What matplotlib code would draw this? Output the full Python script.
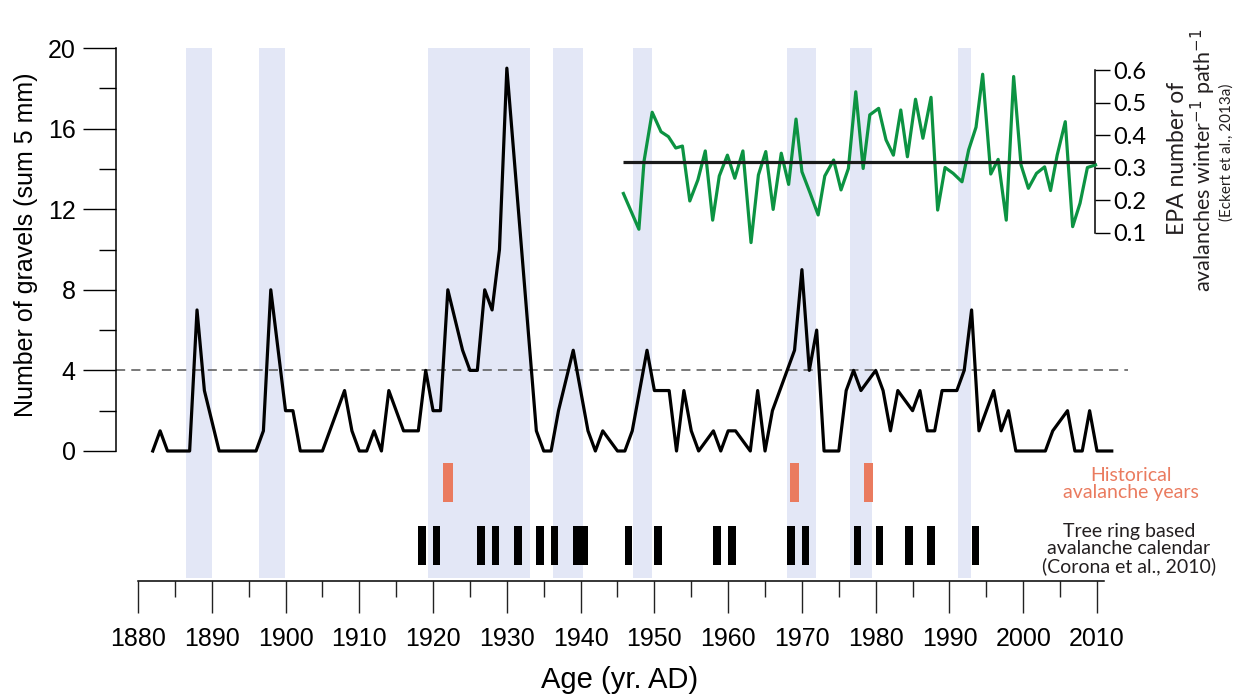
import matplotlib
matplotlib.use("Agg")
import matplotlib.pyplot as plt
from matplotlib.ticker import MultipleLocator

plt.rcParams['font.family'] = ['Liberation Sans', 'DejaVu Sans']

# gravel counts (sum 5 mm) through time
gravel_years = [1882, 1883, 1884, 1887, 1888, 1889, 1891, 1896, 1897, 1898,
                1900, 1901, 1902, 1905, 1908, 1909, 1910, 1911, 1912, 1913,
                1914, 1916, 1918, 1919, 1920, 1921, 1922, 1924, 1925, 1926,
                1927, 1928, 1929, 1930, 1934, 1935, 1936, 1937, 1939, 1941,
                1942, 1943, 1945, 1946, 1947, 1949, 1950, 1952, 1953, 1954,
                1955, 1956, 1958, 1959, 1960, 1961, 1963, 1964, 1965, 1966,
                1969, 1970, 1971, 1972, 1973, 1975, 1976, 1977, 1978, 1980,
                1981, 1982, 1983, 1985, 1986, 1987, 1988, 1989, 1991, 1992,
                1993, 1994, 1996, 1997, 1998, 1999, 2003, 2004, 2006, 2007,
                2008, 2009, 2010, 2012]
gravel_counts = [0, 1, 0, 0, 7, 3, 0, 0, 1, 8,
                 2, 2, 0, 0, 3, 1, 0, 0, 1, 0,
                 3, 1, 1, 4, 2, 2, 8, 5, 4, 4,
                 8, 7, 10, 19, 1, 0, 0, 2, 5, 1,
                 0, 1, 0, 0, 1, 5, 3, 3, 0, 3,
                 1, 0, 1, 0, 1, 1, 0, 3, 0, 2,
                 5, 9, 4, 6, 0, 0, 3, 4, 3, 4,
                 3, 1, 3, 2, 3, 1, 1, 3, 3, 4,
                 7, 1, 3, 1, 2, 0, 0, 1, 2, 0,
                 0, 2, 0, 0]
gravel_threshold = 4

# EPA avalanche activity (Eckert et al., 2013a)
epa_years = [1945.8, 1947.9, 1948.6, 1949.7, 1950.9, 1951.9, 1952.9, 1953.8, 1954.8, 1955.9,
             1956.9, 1957.9, 1958.8, 1959.9, 1960.9, 1962.0, 1963.1, 1964.1, 1965.1, 1966.1,
             1967.2, 1968.2, 1969.2, 1970.0, 1971.1, 1972.2, 1973.1, 1974.3, 1975.3, 1976.3,
             1977.3, 1978.3, 1979.2, 1980.4, 1981.4, 1982.4, 1983.4, 1984.3, 1985.4, 1986.4,
             1987.5, 1988.4, 1989.4, 1990.5, 1991.7, 1992.6, 1993.6, 1994.5, 1995.6, 1996.6,
             1997.7, 1998.7, 1999.7, 2000.7, 2001.8, 2002.9, 2003.7, 2004.6, 2005.7, 2006.7,
             2007.7, 2008.7, 2009.8]
epa_values = [0.22, 0.11, 0.32, 0.47, 0.41, 0.395, 0.36, 0.366, 0.197, 0.262,
              0.351, 0.138, 0.274, 0.338, 0.267, 0.351, 0.069, 0.277, 0.349, 0.171,
              0.344, 0.248, 0.449, 0.287, 0.222, 0.154, 0.274, 0.323, 0.231, 0.297,
              0.533, 0.297, 0.462, 0.482, 0.385, 0.338, 0.477, 0.333, 0.51, 0.39,
              0.516, 0.169, 0.30, 0.282, 0.256, 0.354, 0.424, 0.587, 0.28, 0.325,
              0.138, 0.58, 0.308, 0.236, 0.282, 0.302, 0.229, 0.338, 0.441, 0.118,
              0.19, 0.30, 0.308]
epa_mean = 0.317

# periods shaded in blue (start, end)
band_starts = [1886.5, 1896.4, 1919.35, 1936.2, 1947.1, 1968.0, 1976.5, 1991.2]
band_ends = [1890.0, 1899.9, 1933.2, 1940.3, 1949.7, 1971.9, 1979.5, 1992.9]

historical_years = [1922, 1969, 1979]
tree_ring_years = [1919, 1921, 1927, 1929, 1932, 1935, 1937, 1940, 1941, 1947,
                   1951, 1959, 1961, 1969, 1971, 1978, 1981, 1985, 1988, 1994]

# layout in pixels of the 1244x698 picture
W, H = 1244, 698
def fx(px):
    return px / W
def fy(py):
    return 1 - py / H

px_per_yr = (1097 - 138) / 130.0
x_lo = 1880 - (138 - 116) / px_per_yr
x_hi = 1880 + (1128 - 138) / px_per_yr

band_col = '#E3E7F6'
green = '#0C9342'
salmon = '#EA7B5F'

fig = plt.figure(figsize=(W / 100, H / 100), dpi=100)

# background axes: bands, event bars and time axis
axb = fig.add_axes([fx(116), fy(581), (1128 - 116) / W, (581 - 48) / H])
axb.set_xlim(x_lo, x_hi)
axb.set_ylim(581, 48)
for s, e in zip(band_starts, band_ends):
    axb.axvspan(s, e, ymin=3 / 533, ymax=1, color=band_col, lw=0, zorder=0)
axb.bar(historical_years, 39, bottom=463, width=1.3, color=salmon, zorder=2)
axb.bar(tree_ring_years, 39, bottom=526, width=-1, align='edge', color='black', zorder=2)
for sp in ['top', 'left', 'right']:
    axb.spines[sp].set_visible(False)
axb.spines['bottom'].set_bounds(1880, 2011)
axb.spines['bottom'].set_linewidth(1.1)
axb.set_yticks([])
axb.set_xticks(range(1880, 2011, 10))
axb.set_xticks(range(1885, 2010, 10), minor=True)
axb.tick_params(axis='x', which='major', length=23, width=1.0, labelsize=18, pad=10, color='#222222')
axb.tick_params(axis='x', which='minor', length=11.5, width=1.0, color='#222222')
axb.patch.set_visible(False)

# gravel counts
ax = fig.add_axes([fx(116), fy(451), (1128 - 116) / W, (451 - 48) / H])
ax.set_xlim(x_lo, x_hi)
ax.set_ylim(0, 20)
ax.patch.set_visible(False)
for sp in ['top', 'bottom', 'right']:
    ax.spines[sp].set_visible(False)
ax.spines['left'].set_linewidth(1.1)
ax.axhline(gravel_threshold, color='#555555', lw=1.1, ls=(0, (6, 4)), zorder=1)
ax.plot(gravel_years, gravel_counts, color='black', lw=2.3, zorder=3, clip_on=False)
ax.yaxis.set_major_locator(MultipleLocator(4))
ax.yaxis.set_minor_locator(MultipleLocator(2))
ax.tick_params(axis='y', which='major', length=24, width=1.0, labelsize=18, pad=5)
ax.tick_params(axis='y', which='minor', length=12, width=1.0)
ax.tick_params(axis='x', bottom=False, labelbottom=False)

# EPA series with its own right axis
ax2 = fig.add_axes([fx(116), fy(451), (1128 - 116) / W, (451 - 48) / H])
ax2.set_xlim(x_lo, x_hi)
ax2.set_ylim(-0.5723, 0.6677)
ax2.patch.set_visible(False)
for sp in ['top', 'bottom', 'left']:
    ax2.spines[sp].set_visible(False)
ax2.spines['right'].set_position(('data', 2009.7))
ax2.spines['right'].set_bounds(0.1, 0.6)
ax2.spines['right'].set_linewidth(1.1)
ax2.yaxis.tick_right()
ax2.set_yticks([0.1, 0.2, 0.3, 0.4, 0.5, 0.6])
ax2.set_yticklabels(['0.1', '0.2', '0.3', '0.4', '0.5', '0.6'])
ax2.tick_params(axis='y', length=10.5, width=1.0, labelsize=17, pad=3, labelfontfamily='Lato')
ax2.tick_params(axis='x', bottom=False, labelbottom=False)
ax2.plot(epa_years, epa_values, color=green, lw=2.3, zorder=3)
ax2.hlines(epa_mean, epa_years[0], 2009.7, color='#1a1a1a', lw=2.3, zorder=4)

# axis titles
fig.text(fx(26), fy(245), 'Number of gravels (sum 5 mm)', rotation=90,
         ha='center', va='center', fontsize=18)
fig.text(fx(620), fy(680), 'Age (yr. AD)', ha='center', va='center', fontsize=21)
fig.text(fx(1178), fy(158), 'EPA number of', rotation=90, ha='center', va='center',
         fontsize=16.5, family='Lato', color='#231F20')
fig.text(fx(1203), fy(160), 'avalanches winter$^{-1}$ path$^{-1}$', rotation=90,
         ha='center', va='center', fontsize=15.5, family='Lato', color='#231F20')
fig.text(fx(1227), fy(152), '(Eckert et al., 2013a)', rotation=90, ha='center',
         va='center', fontsize=11, family='Lato', color='#231F20')

# legend-like labels at the right
fig.text(fx(1131), fy(484), 'Historical\navalanche years', ha='center', va='center',
         fontsize=14, family='Lato', color=salmon, linespacing=1.0)
fig.text(fx(1129), fy(549), 'Tree ring based\navalanche calendar\n(Corona et al., 2010)',
         ha='center', va='center', fontsize=14, family='Lato', color='#231F20',
         linespacing=1.0)

fig.savefig('out.png', dpi=100)
